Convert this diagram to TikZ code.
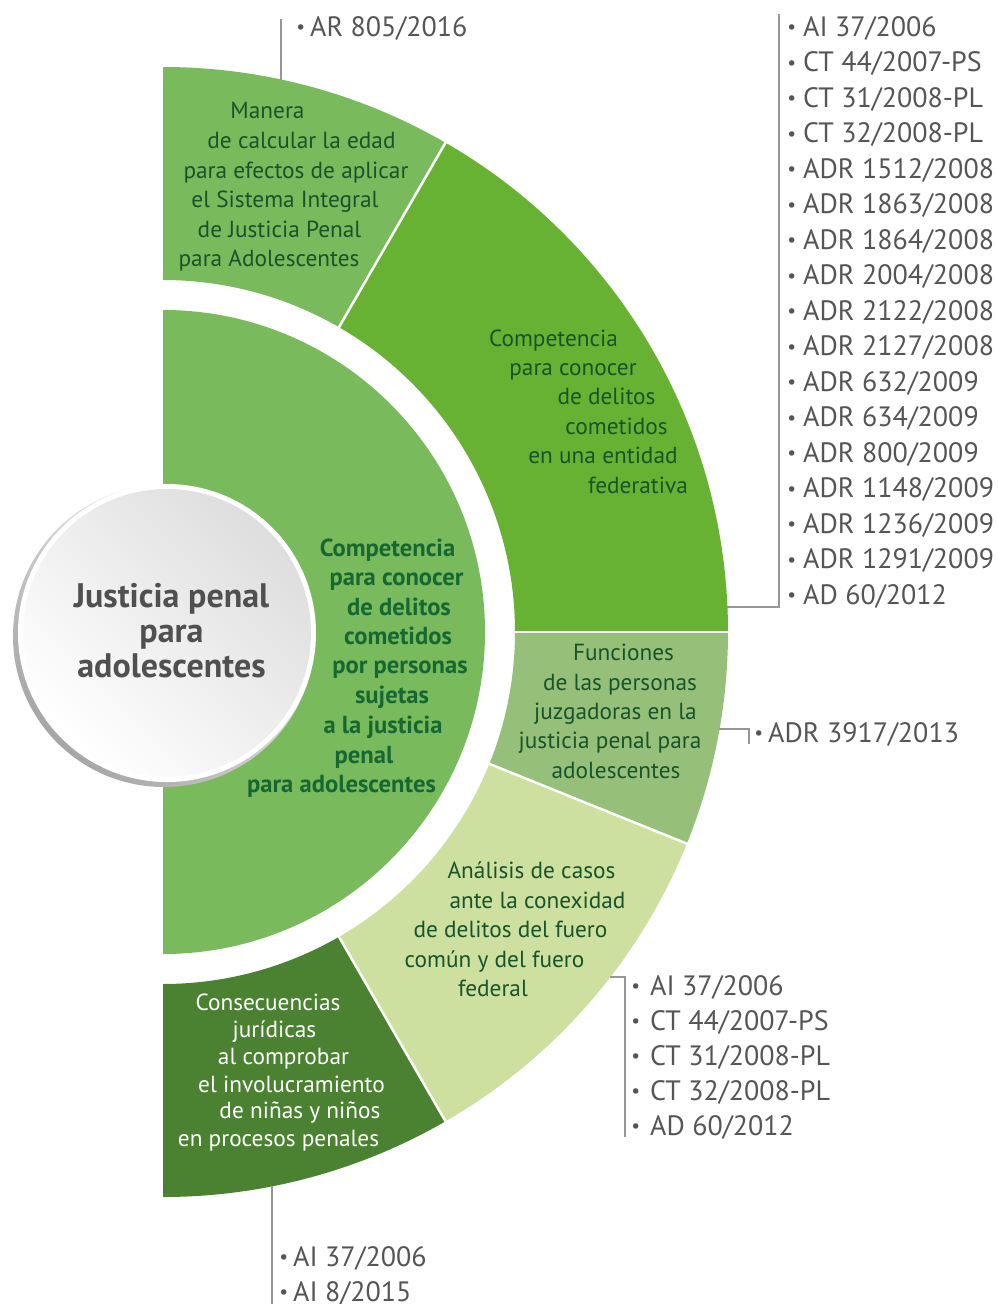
\documentclass[tikz,border=0pt]{standalone}
\usepackage{fontspec}
\setmainfont{PT Sans}
\usetikzlibrary{calc}
\definecolor{innergreen}{RGB}{121,186,93}
\definecolor{maneragreen}{RGB}{121,186,93}
\definecolor{compgreen}{RGB}{103,178,50}
\definecolor{funcgreen}{RGB}{150,192,122}
\definecolor{analgreen}{RGB}{205,224,160}
\definecolor{consgreen}{RGB}{74,130,49}
\definecolor{txtgreen}{RGB}{24,84,42}
\definecolor{boldgreen}{RGB}{22,104,50}
\definecolor{listgray}{RGB}{85,85,85}
\definecolor{titlegray}{RGB}{80,80,80}
\definecolor{brkgray}{RGB}{150,150,150}
\newcommand{\ringsector}[5]{%
  \fill[#1] ($(C)+(#2:#4)$) arc[start angle=#2, end angle=#3, radius=#4]
    -- ($(C)+(#3:#5)$) arc[start angle=#3, end angle=#2, radius=#5] -- cycle;}
\newcommand{\bul}[1][15pt]{\makebox[#1][l]{\hspace{-0.8pt}\raisebox{2.3pt}{\fontsize{19.5}{19.5}\selectfont\textbullet}}}
\begin{document}
\begin{tikzpicture}[x=1pt,y=-1pt,
  seg/.style={font=\fontsize{23.3}{28}\selectfont, text=txtgreen, anchor=base, inner sep=0pt},
  segw/.style={seg, text=white},
  segb/.style={font=\fontsize{24.6}{28}\selectfont\bfseries, text=boldgreen, anchor=base, inner sep=0pt},
  ttl/.style={font=\fontsize{34}{38}\selectfont\bfseries, text=titlegray, anchor=base, inner sep=0pt},
  lst/.style={font=\fontsize{28}{32}\selectfont, text=listgray, anchor=base west, inner sep=0pt},
  brk/.style={draw=brkgray, line width=2pt}]
\useasboundingbox (0,0) rectangle (998,1304);
\fill[white] (0,0) rectangle (998,1304);
\coordinate (C) at (163,632);

% outer ring sectors (TikZ angle = - visual angle)
\ringsector{maneragreen}{-90}{-60}{352}{565}
\ringsector{compgreen}{-60}{0}{352}{565}
\ringsector{funcgreen}{0}{22}{352}{565}
\ringsector{analgreen}{22}{60}{352}{565}
\ringsector{consgreen}{60}{90}{352}{565}
\foreach \a in {-60,0,22,60}
  \draw[white, line width=2.5pt] ($(C)+(\a:345)$) -- ($(C)+(\a:575)$);

% inner half disk
\fill[innergreen] ($(C)+(-90:322)$) arc[start angle=-90, end angle=90, radius=322] -- cycle;

% central circle
\shade[top color=white, bottom color=black!35, shading angle=-45] (164,636) circle[radius=151];
\fill[white] (167,633) circle[radius=149];
\shade[top color=black!13, bottom color=white, shading angle=-45] (167,633) circle[radius=144];

\node[ttl] (t1) at (171.5,607) {Justicia penal};
\node[ttl] (t2) at (171.5,642) {para};
\node[ttl] (t3) at (171.5,677) {adolescentes};

% inner disk text
\foreach \t/\x/\y [count=\i] in {Competencia/387.5/556, para conocer/396.5/585,
  de delitos/399/615, cometidos/398/644, por personas/400/673, sujetas/392/703,
  a la justicia/383/733, penal/364/763, para adolescentes/341.5/792}
  \node[segb] (in\i) at (\x,\y) {\t};

% Manera
\foreach \t/\x/\y [count=\i] in {Manera/267.5/118, de calcular la edad/301.5/148,
  para efectos de aplicar/296/178, el Sistema Integral/285/207,
  de Justicia Penal/279.5/237, para Adolescentes/269/266}
  \node[seg] (ma\i) at (\x,\y) {\t};

% Competencia outer
\foreach \t/\x/\y [count=\i] in {Competencia/553.5/346, para conocer/573/375,
  de delitos/606.5/404, cometidos/616.5/434, en una entidad/603/463,
  federativa/638/493}
  \node[seg] (co\i) at (\x,\y) {\t};

% Funciones
\foreach \t/\x/\y [count=\i] in {Funciones/623.5/660, de las personas/620/690,
  juzgadoras en la/615.5/719, justicia penal para/610/748, adolescentes/616/778}
  \node[seg] (fu\i) at (\x,\y) {\t};

% Analisis
\foreach \t/\x/\y [count=\i] in {Análisis de casos/531.5/878, ante la conexidad/537.5/908,
  de delitos del fuero/510.5/937, común y del fuero/494.5/967, federal/493/996}
  \node[seg] (an\i) at (\x,\y) {\t};

% Consecuencias
\foreach \t/\x/\y [count=\i] in {Consecuencias/268/1010, jurídicas/274.5/1037,
  al comprobar/283.5/1064, el involucramiento/291.5/1092,
  de niñas y niños/300/1118, en procesos penales/278.5/1146}
  \node[segw] (cs\i) at (\x,\y) {\t};

% lists
\node[lst] (ar) at (297,36) {\bul[13pt]AR 805/2016};
\foreach \t [count=\i from 0] in {AI 37/2006, CT 44/2007-PS, CT 31/2008-PL, CT 32/2008-PL,
  ADR 1512/2008, ADR 1863/2008, ADR 1864/2008, ADR 2004/2008, ADR 2122/2008,
  ADR 2127/2008, ADR 632/2009, ADR 634/2009, ADR 800/2009, ADR 1148/2009,
  ADR 1236/2009, ADR 1291/2009, AD 60/2012}
  \node[lst] (rl\i) at (788,36+35.5*\i) {\bul\t};
\node[lst] (fl) at (755,742) {\bul[13pt]ADR 3917/2013};
\foreach \t [count=\i from 0] in {AI 37/2006, CT 44/2007-PS, CT 31/2008-PL, CT 32/2008-PL, AD 60/2012}
  \node[lst] (al\i) at (632,995+35*\i) {\bul[18pt]\t};
\foreach \t [count=\i from 0] in {AI 37/2006, AI 8/2015}
  \node[lst] (cl\i) at (280,1266+35*\i) {\bul[13pt]\t};

% brackets
\coordinate (topA) at (281,79.5); \coordinate (topB) at (281,19);
\draw[brk] (topA) -- (topB);
\coordinate (rA) at (727,607); \coordinate (rB) at (779,607); \coordinate (rC) at (779,14);
\draw[brk] (rA) -- (rB) -- (rC);
\coordinate (fA) at (719,729); \coordinate (fB) at (749,729); \coordinate (fC) at (749,744);
\draw[brk] (fA) -- (fB) -- (fC);
\coordinate (aA) at (610,977); \coordinate (aB) at (625,977); \coordinate (aC) at (625,1137);
\draw[brk] (aA) -- (aB) -- (aC);
\coordinate (cA) at (272,1186); \coordinate (cB) at (272,1304);
\draw[brk] (cA) -- (cB);
\end{tikzpicture}
\end{document}
